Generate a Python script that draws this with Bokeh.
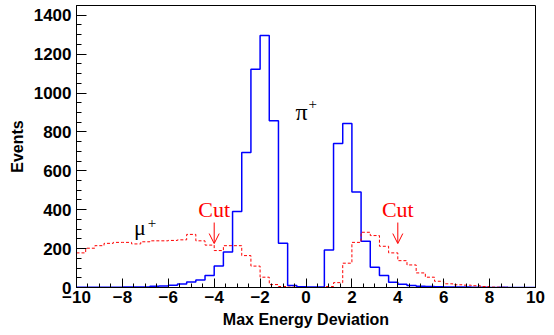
import numpy as np
from bokeh.plotting import figure
from bokeh.models import Label, Arrow, OpenHead, Range1d, SingleIntervalTicker
from bokeh.embed import file_html
from bokeh.resources import INLINE

# ---- data ----
bin_low = -10.0
bin_width = 0.4

pi_counts = [1, 1, 1, 1, 1, 2, 2, 3, 6, 8,
             12, 18, 28, 38, 62, 110, 183, 391, 694, 1122,
             1296, 857, 227, 10, 4, 2, 3, 193, 740, 843,
             491, 238, 104, 62, 27, 17, 10, 7, 5, 4,
             3, 2, 2, 1, 1, 0, 1, 0, 0, 0]

mu_counts = [178, 202, 215, 227, 232, 232, 224, 235, 240, 240,
             242, 245, 273, 240, 218, 190, 215, 215, 164, 110,
             53, 15, 5, 2, 0, 0, 0, 5, 25, 125,
             232, 284, 267, 212, 178, 138, 116, 75, 53, 32,
             19, 14, 12, 9, 5, 2, 1, 0, 0, 0]

x_ticks = [-10, -8, -6, -4, -2, 0, 2, 4, 6, 8, 10]
y_ticks = [0, 200, 400, 600, 800, 1000, 1200, 1400]
cut_values = [-4, 4]

edges = bin_low + bin_width * np.arange(len(pi_counts) + 1)

p = figure(width=554, height=335, output_backend="svg", toolbar_location=None,
           x_range=Range1d(-10, 10), y_range=Range1d(0, 1450),
           min_border_left=76, min_border_right=19, min_border_top=5,
           min_border_bottom=48)
p.background_fill_color = "white"
p.border_fill_color = "white"
p.outline_line_color = "black"
p.outline_line_width = 1
p.xgrid.visible = False
p.ygrid.visible = False

p.step(edges, list(pi_counts) + [pi_counts[-1]], mode="after",
       line_color="#0000ff", line_width=1.5)
p.step(edges, list(mu_counts) + [mu_counts[-1]], mode="after",
       line_color="#ff0000", line_width=1, line_dash="3 2")

# axes
for ax, interval, tin, mtin in ((p.xaxis[0], 2, 9, 4), (p.yaxis[0], 200, 10, 5)):
    ax.ticker = SingleIntervalTicker(interval=interval, num_minor_ticks=4)
    ax.major_tick_in = tin
    ax.major_tick_out = 0
    ax.minor_tick_in = mtin
    ax.minor_tick_out = 0
    ax.axis_line_color = "black"
    ax.major_tick_line_color = "black"
    ax.minor_tick_line_color = "black"
    ax.major_label_text_font = "Liberation Sans"
    ax.major_label_text_font_style = "bold"
    ax.major_label_text_font_size = "17px"
    ax.major_label_text_color = "black"
    ax.axis_label_text_font = "Liberation Sans"
    ax.axis_label_text_font_style = "bold"
    ax.axis_label_text_font_size = "16px"
    ax.axis_label_text_color = "black"

p.xaxis.axis_label = "Max Energy Deviation"
p.yaxis.axis_label = "Events"
p.xaxis.major_label_standoff = 3
p.yaxis.major_label_standoff = 5
p.xaxis.axis_label_standoff = 5
p.yaxis.axis_label_standoff = 5

# labels
p.add_layout(Label(x=-0.46, y=904, text="π", text_font="Liberation Serif",
                   text_font_size="24px", text_color="black", text_baseline="alphabetic"))
p.add_layout(Label(x=0.11, y=943, text="+", text_font="Liberation Serif",
                   text_font_size="15px", text_color="black", text_baseline="alphabetic"))
p.add_layout(Label(x=-7.5, y=311, text="μ", text_font="Liberation Serif",
                   text_font_size="22px", text_color="black", text_baseline="alphabetic"))
p.add_layout(Label(x=-6.9, y=332, text="+", text_font="Liberation Serif",
                   text_font_size="15px", text_color="black", text_baseline="alphabetic"))

for cv in cut_values:
    p.add_layout(Label(x=cv, y=403, text="Cut", text_font="Liberation Serif",
                       text_font_size="22px", text_color="#ff0000",
                       text_align="center", text_baseline="alphabetic"))
    p.add_layout(Arrow(x_start=cv, y_start=334, x_end=cv, y_end=226,
                       line_color="#ff0000", line_width=1,
                       end=OpenHead(size=10, line_color="#ff0000", line_width=1)))

open("out.html", "w").write(file_html(p, INLINE))
